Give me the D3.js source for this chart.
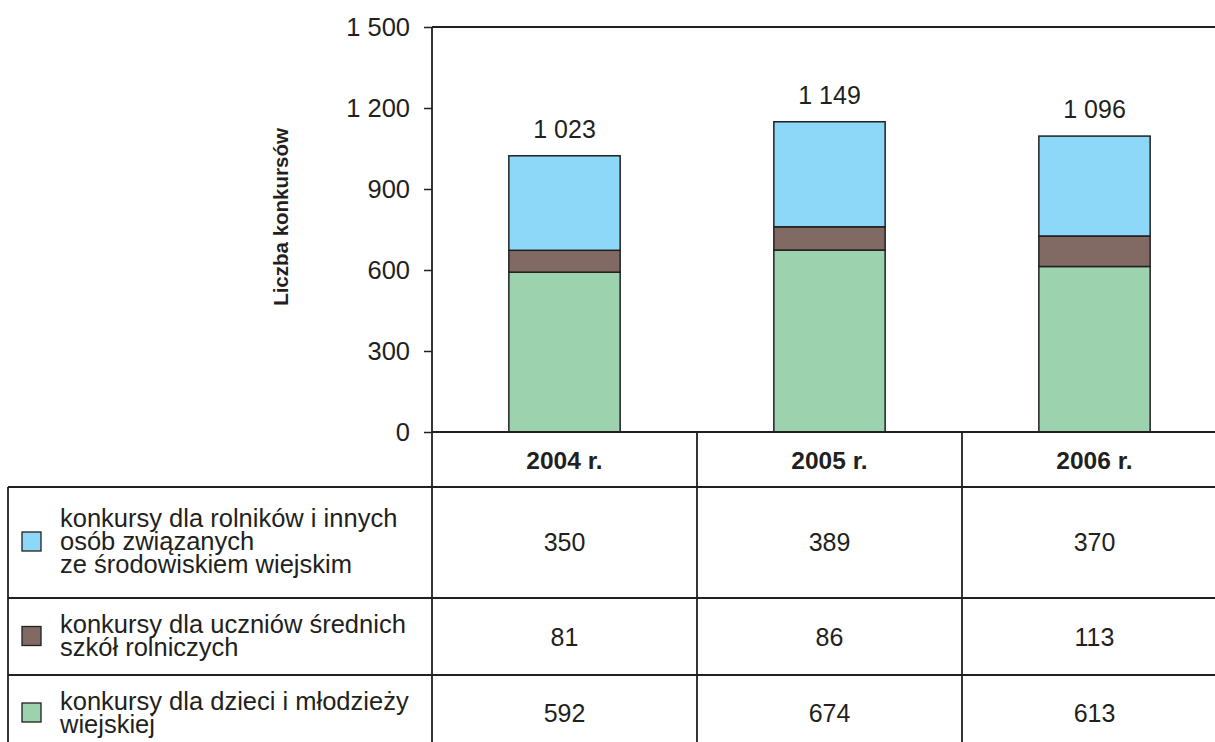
<!DOCTYPE html>
<html>
<head>
<meta charset="utf-8">
<script src="https://cdn.jsdelivr.net/npm/d3@7"></script>
<style>
  html, body { margin: 0; padding: 0; background: #fff; }
  svg { display: block; font-family: "Liberation Sans", Arial, sans-serif; }
</style>
</head>
<body>
<svg id="chart" width="1215" height="742"></svg>
<script>
// ---- data ----
const years = ["2004 r.", "2005 r.", "2006 r."];
const seriesNames = [
  ["konkursy dla rolników i innych", "osób związanych", "ze środowiskiem wiejskim"],
  ["konkursy dla uczniów średnich", "szkół rolniczych"],
  ["konkursy dla dzieci i młodzieży", "wiejskiej"]
];
const rolnicy = [350, 389, 370];
const uczniowie = [81, 86, 113];
const dzieci = [592, 674, 613];
const totals = [1023, 1149, 1096];
const yTicks = [0, 300, 600, 900, 1200, 1500];
const colors = ["#8dd8f8", "#826a64", "#9cd3ae"];

// ---- layout ----
const svg = d3.select("#chart");
const axisX = 432, y0 = 432, yTop = 27;
const colW = 265;
const stroke = "#231f20";

const x = d3.scaleBand().domain(years).range([axisX, axisX + colW * years.length]).padding(0);
const barW = x.bandwidth() * 0.42;
const y = d3.scaleLinear().domain([0, 1500]).range([y0, yTop]);
const loc = d3.formatLocale({decimal: ",", thousands: "\u00a0", grouping: [3], currency: ["", " zł"]});
const fmt = loc.format(",d");

// stacked bars (bottom to top: dzieci, uczniowie, rolnicy)
const stackData = years.map((yr, i) => ({year: yr, dzieci: dzieci[i], uczniowie: uczniowie[i], rolnicy: rolnicy[i]}));
const keys = ["dzieci", "uczniowie", "rolnicy"];
const keyColor = {dzieci: colors[2], uczniowie: colors[1], rolnicy: colors[0]};
const stacked = d3.stack().keys(keys)(stackData);

const gBars = svg.append("g");
stacked.forEach(layer => {
  gBars.selectAll(null).data(layer).enter().append("rect")
    .attr("x", d => x(d.data.year) + (x.bandwidth() - barW) / 2)
    .attr("y", d => y(d[1]))
    .attr("width", barW)
    .attr("height", d => y(d[0]) - y(d[1]))
    .attr("fill", keyColor[layer.key])
    .attr("stroke", stroke)
    .attr("stroke-width", 1.5);
});

// total labels
svg.append("g").selectAll("text").data(years).enter().append("text")
  .attr("x", d => x(d) + x.bandwidth() / 2)
  .attr("y", (d, i) => y(totals[i]) - 18)
  .attr("text-anchor", "middle")
  .attr("font-size", 25)
  .attr("fill", "#231f20")
  .text((d, i) => fmt(totals[i]));

// y axis
const yAxis = d3.axisLeft(y).tickValues(yTicks).tickSize(8).tickPadding(14).tickFormat(fmt);
const gy = svg.append("g").attr("transform", `translate(${axisX},0)`).call(yAxis);
gy.select(".domain").remove();
gy.selectAll(".tick line").attr("stroke", stroke).attr("stroke-width", 1.5);
gy.selectAll(".tick text").attr("font-size", 25.5).attr("fill", "#231f20")
  .attr("font-family", "'Liberation Sans', Arial, sans-serif");

// axis title
svg.append("text")
  .attr("transform", `translate(288,217) rotate(-90)`)
  .attr("text-anchor", "middle")
  .attr("font-size", 20.5)
  .attr("font-weight", "bold")
  .attr("fill", "#231f20")
  .text("Liczba konkursów");

// ---- frame / table lines ----
const W = 1215, H = 742;
const lines = svg.append("g").attr("stroke", stroke).attr("stroke-width", 1.8).attr("fill", "none");
lines.append("line").attr("x1", axisX).attr("x2", W).attr("y1", yTop).attr("y2", yTop);
lines.append("line").attr("x1", axisX).attr("x2", axisX).attr("y1", yTop).attr("y2", H);
lines.append("line").attr("x1", axisX).attr("x2", W).attr("y1", y0).attr("y2", y0);

const headerBottom = 487;
const rowBounds = [487, 598, 675, 752];
const tableLeft = 8;
rowBounds.slice(0, 3).forEach(v => {
  lines.append("line").attr("x1", tableLeft).attr("x2", W).attr("y1", v).attr("y2", v);
});
lines.append("line").attr("x1", tableLeft).attr("x2", tableLeft).attr("y1", headerBottom).attr("y2", H);
years.slice(1).forEach(yr => {
  lines.append("line").attr("x1", x(yr)).attr("x2", x(yr)).attr("y1", y0).attr("y2", H);
});

// header labels
svg.append("g").selectAll("text").data(years).enter().append("text")
  .attr("x", d => x(d) + x.bandwidth() / 2)
  .attr("y", (y0 + headerBottom) / 2 + 9)
  .attr("text-anchor", "middle")
  .attr("font-size", 24.5)
  .attr("font-weight", "bold")
  .attr("fill", "#231f20")
  .text(d => d);

// table rows
const rowData = [rolnicy, uczniowie, dzieci];
const rowColors = [colors[0], colors[1], colors[2]];
const rowCenters = [542, 636.5, 713];
const lh = 23;
rowData.forEach((vals, r) => {
  const cy = rowCenters[r];
  // legend swatch
  svg.append("rect")
    .attr("x", 22).attr("y", cy - 10).attr("width", 19).attr("height", 19)
    .attr("fill", rowColors[r]).attr("stroke", stroke).attr("stroke-width", 1.3);
  // label lines
  const names = seriesNames[r];
  const first = cy - (names.length - 1) * lh / 2 + 8;
  const t = svg.append("text").attr("font-size", 25.5).attr("fill", "#231f20");
  names.forEach((ln, k) => {
    t.append("tspan").attr("x", 60).attr("y", first + k * lh).text(ln);
  });
  // values
  svg.append("g").selectAll("text").data(years).enter().append("text")
    .attr("x", d => x(d) + x.bandwidth() / 2)
    .attr("y", cy + 9)
    .attr("text-anchor", "middle")
    .attr("font-size", 25)
    .attr("fill", "#231f20")
    .text((d, i) => fmt(vals[i]));
});
</script>
</body>
</html>
